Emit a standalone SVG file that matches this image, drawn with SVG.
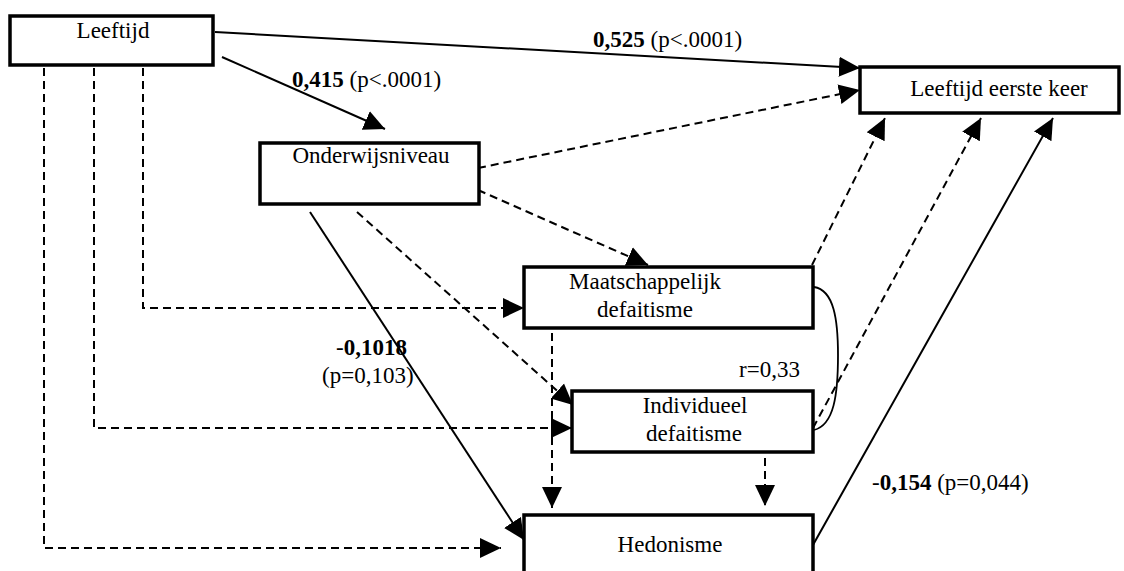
<svg xmlns="http://www.w3.org/2000/svg" width="1124" height="571" viewBox="0 0 1124 571">
  <defs>
    <marker id="arr" markerUnits="userSpaceOnUse" markerWidth="22" markerHeight="22" refX="21" refY="10" orient="auto" viewBox="0 0 22 20">
      <path d="M0,0 L21,10 L0,20 z" fill="#000"/>
    </marker>
  </defs>
  <style>
    .box { fill: #fff; stroke: #000; stroke-width: 3.5; }
    .t { font-family: "Liberation Serif", "Times New Roman", serif; font-size: 23px; fill: #000; }
    .c { text-anchor: middle; }
    .b { font-weight: bold; }
    .solid { fill: none; stroke: #000; stroke-width: 2; marker-end: url(#arr); }
    .dash { fill: none; stroke: #000; stroke-width: 2; stroke-dasharray: 8 5; marker-end: url(#arr); }
    .corr { fill: none; stroke: #000; stroke-width: 1.8; }
  </style>
  <rect width="1124" height="571" fill="#fff"/>

  <g id="connectors">
    <!-- Leeftijd -> Leeftijd eerste keer -->
    <path class="solid" d="M215,32 L860,68"/>
    <!-- Leeftijd -> Onderwijsniveau -->
    <path class="solid" d="M222,57 L385,129"/>
    <!-- Onderwijsniveau -> Leeftijd eerste keer -->
    <path class="dash" d="M478,168 L860,90"/>
    <!-- Onderwijsniveau -> Maatschappelijk -->
    <path class="dash" d="M478,190 L648,265"/>
    <!-- Onderwijsniveau -> Individueel -->
    <path class="dash" d="M357,212 L573,405"/>
    <!-- Onderwijsniveau -> Hedonisme -->
    <path class="solid" d="M310,212 L524,540"/>
    <!-- Leeftijd -> Maatschappelijk -->
    <path class="dash" d="M143,68 L143,308 L524,308"/>
    <!-- Leeftijd -> Individueel -->
    <path class="dash" d="M94,68 L94,428 L572,428"/>
    <!-- Leeftijd -> Hedonisme -->
    <path class="dash" d="M44,68 L44,548 L501,548"/>
    <!-- Maatschappelijk -> Hedonisme -->
    <path class="dash" d="M552,333 L552,508"/>
    <!-- Individueel -> Hedonisme -->
    <path class="dash" d="M765,458 L765,506"/>
    <!-- Maatschappelijk -> Leeftijd eerste keer -->
    <path class="dash" d="M812,265 L885,118"/>
    <!-- Individueel -> Leeftijd eerste keer -->
    <path class="dash" d="M813,428 L981,118"/>
    <!-- Hedonisme -> Leeftijd eerste keer -->
    <path class="solid" d="M813,545 L1053,118"/>
    <!-- correlation -->
    <path class="corr" d="M814,287 C834,290 838,320 838,355 C838,395 834,425 814,430"/>
  </g>

  <g id="labels">
    <text class="t" x="593" y="47"><tspan class="b">0,525</tspan> (p&lt;.0001)</text>
    <text class="t" x="292" y="87"><tspan class="b">0,415</tspan> (p&lt;.0001)</text>
    <text class="t" x="336" y="355">-<tspan class="b">0,1018</tspan></text>
    <text class="t" x="322" y="383">(p=0,103)</text>
    <text class="t" x="739" y="377">r=0,33</text>
    <text class="t" x="872" y="490">-<tspan class="b">0,154</tspan> (p=0,044)</text>
  </g>

  <g id="leeftijd">
    <rect class="box" x="10" y="16" width="203" height="49"/>
    <text class="t c" x="113" y="38">Leeftijd</text>
  </g>
  <g id="onderwijsniveau">
    <rect class="box" x="260" y="143" width="219" height="61"/>
    <text class="t c" x="371" y="163">Onderwijsniveau</text>
  </g>
  <g id="leeftijd-eerste-keer">
    <rect class="box" x="860" y="67" width="259" height="46"/>
    <text class="t c" x="999" y="96">Leeftijd eerste keer</text>
  </g>
  <g id="maatschappelijk">
    <rect class="box" x="524" y="267" width="289" height="61"/>
    <text class="t c" x="645" y="289">Maatschappelijk</text>
    <text class="t c" x="645" y="317">defaitisme</text>
  </g>
  <g id="individueel">
    <rect class="box" x="572" y="391" width="241" height="61"/>
    <text class="t c" x="695" y="413">Individueel</text>
    <text class="t c" x="694" y="441">defaitisme</text>
  </g>
  <g id="hedonisme">
    <rect class="box" x="524" y="515" width="289" height="80"/>
    <text class="t c" x="670" y="552">Hedonisme</text>
  </g>
</svg>
